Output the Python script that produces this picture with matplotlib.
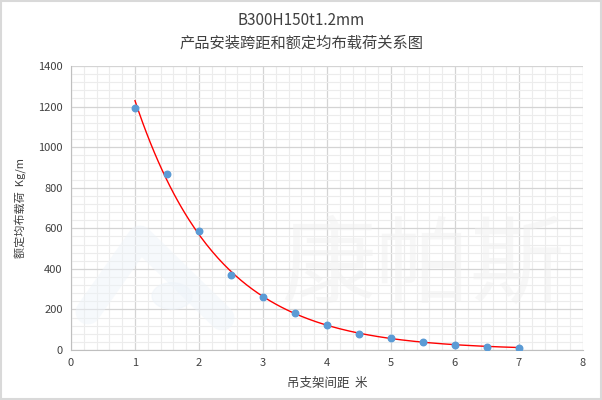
import numpy as np
import matplotlib.pyplot as plt
from matplotlib.ticker import MultipleLocator
from matplotlib.lines import Line2D
from matplotlib.patches import Circle

plt.rcParams['font.family'] = ['Noto Sans CJK SC', 'DejaVu Sans']

# 吊支架间距(米)と額定均布荷載
span = [1, 1.5, 2, 2.5, 3, 3.5, 4, 4.5, 5, 5.5, 6, 6.5, 7]
load = [1192, 867, 586, 370, 260, 182, 122, 79, 61, 39, 27, 17, 12]

# 指数トレンドライン (対数でフィット)
b, a = np.polyfit(span, np.log(load), 1)
xs = np.linspace(1, 7, 200)
ys = np.exp(a) * np.exp(b * xs)

W, H = 602, 400
fig = plt.figure(figsize=(W / 100, H / 100), dpi=100)
ax = fig.add_axes([71 / W, 50 / H, 512 / W, 284 / H])

# 外枠
fig.patches.append(plt.Rectangle((0.002, 0.003), 0.996, 0.994, transform=fig.transFigure,
                                 fill=False, edgecolor='#d9d9d9', linewidth=1.5))

# ウォーターマーク (ロゴ + 文字)
logo = Line2D([88 / W, 140 / W, 222 / W], [1 - 312 / H, 1 - 238 / H, 1 - 318 / H],
              transform=fig.transFigure, color='#edf3f9', alpha=0.45, linewidth=18,
              solid_joinstyle='round', solid_capstyle='round', zorder=1)
fig.lines.append(logo)
fig.patches.append(Circle((172 / W, 1 - 296 / H), 20 / W, transform=fig.transFigure,
                          color='#edf3f9', alpha=0.45, zorder=1))
ax.text(423 / W, 1 - 268 / H, '康帕斯', transform=fig.transFigure, fontsize=68,
        color='#efefef', alpha=0.45, ha='center', va='center', zorder=2)

ax.plot(xs, ys, color='red', linewidth=1, zorder=3)
ax.scatter(span, load, s=22, color='#5b9bd5', zorder=4)

ax.set_xlim(0, 8)
ax.set_ylim(0, 1400)
ax.xaxis.set_major_locator(MultipleLocator(1))
ax.xaxis.set_minor_locator(MultipleLocator(0.2))
ax.yaxis.set_major_locator(MultipleLocator(200))
ax.yaxis.set_minor_locator(MultipleLocator(40))
ax.grid(which='major', color='#d4d4d4', linewidth=0.9)
ax.grid(which='minor', color='#ececec', linewidth=0.8)
ax.set_axisbelow(True)

for s in ['top', 'right']:
    ax.spines[s].set_visible(False)
for s in ['left', 'bottom']:
    ax.spines[s].set_color('#bfbfbf')
ax.tick_params(which='both', length=0, labelsize=8, colors='#404040', pad=6)

ax.set_xlabel('吊支架间距  米', fontsize=9, color='#404040', labelpad=6)
ax.set_ylabel('额定均布载荷  Kg/m', fontsize=8, color='#404040', labelpad=8)

fig.text(0.5, 0.948, 'B300H150t1.2mm', ha='center', va='center', fontsize=11, color='#404040')
fig.text(0.5, 0.893, '产品安装跨距和额定均布载荷关系图', ha='center', va='center', fontsize=11,
         color='#404040')

fig.savefig('out.png', dpi=100)
